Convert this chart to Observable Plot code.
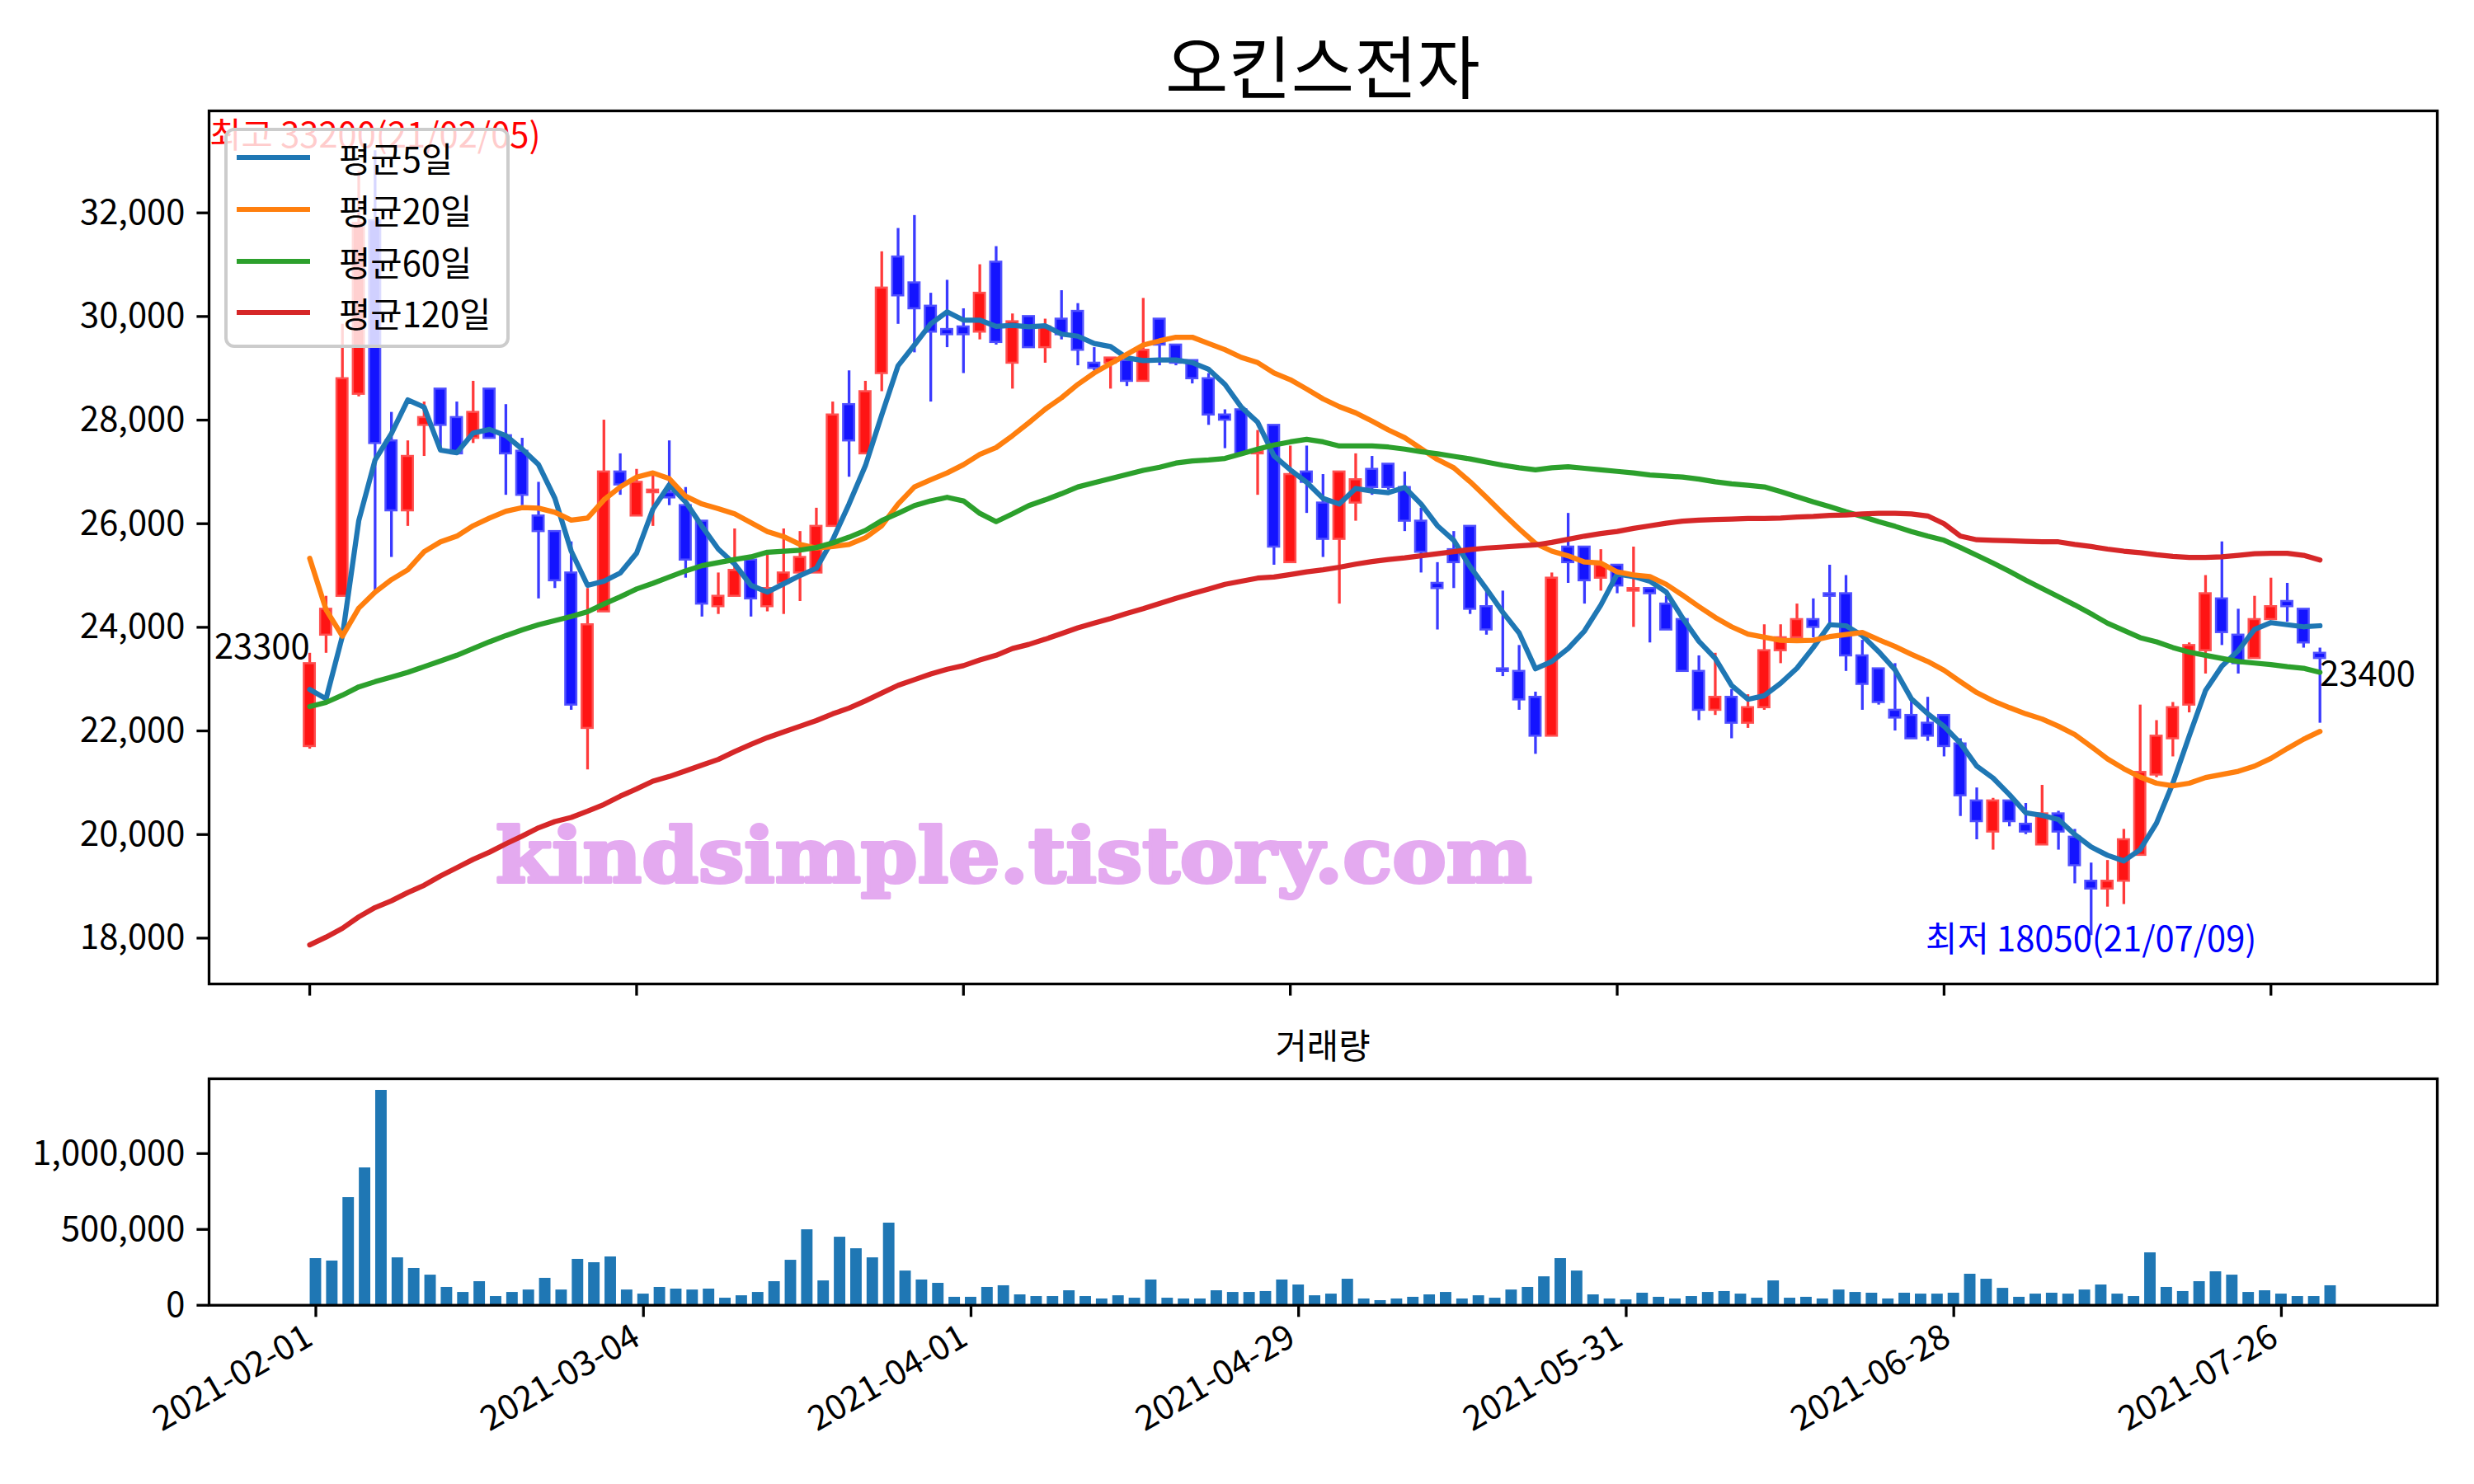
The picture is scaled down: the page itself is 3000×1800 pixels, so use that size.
<!DOCTYPE html>
<html><head><meta charset="utf-8">
<script src="https://cdn.jsdelivr.net/npm/d3@7"></script>
<script src="https://cdn.jsdelivr.net/npm/@observablehq/plot@0.6"></script>
<style>
html,body{margin:0;padding:0;background:#fff;}
#root{position:relative;width:3000px;height:1800px;overflow:hidden;font-family:"Noto Sans CJK KR","Noto Sans",sans-serif;color:#000;}
.abs{position:absolute;}
.plotwrap svg{max-width:none;}
</style></head><body><div id="root"></div>
<script>
// ---- data ----
const title = "오킨스전자";
const volumeTitle = "거래량";
const seriesNames = ["평균5일", "평균20일", "평균60일", "평균120일"];
const seriesColors = ["#1f77b4", "#ff7f0e", "#2ca02c", "#d62728"];
const tickIdx = [0, 20, 40, 60, 80, 100, 120];
const tickDates = ["2021-02-01", "2021-03-04", "2021-04-01", "2021-04-29", "2021-05-31", "2021-06-28", "2021-07-26"];

const open = [21700,23850,24600,28500,31850,27600,26250,27900,28600,28050,27650,28600,27700,27400,26150,25850,25050,22050,24300,27000,
26150,26600,26600,26350,26050,24400,24600,25300,24400,24850,25050,25050,25950,28300,27350,28900,31150,30650,30200,29750,
29800,29700,31050,29100,30000,29400,29950,30100,29100,29100,29150,28750,29950,29450,29150,28800,28100,28200,27350,27900,
25250,27000,26400,25700,26400,27050,27150,26700,26050,24850,25500,25950,24400,23200,23150,22650,21900,25550,25550,24950,
25200,24700,24750,24450,24150,23150,22400,22650,22150,22450,23550,23800,24150,24650,24650,23450,23200,22400,22300,22150,
22300,21750,20650,20050,20650,20200,19800,20400,19950,19100,18950,19100,19600,21150,21850,22500,23550,24550,23850,23400,
24150,24500,24350,23500];
const high = [23500,24600,29850,32800,33200,28150,27600,28350,28600,28350,28750,28600,28300,27650,26800,25850,25650,24750,28000,27350,
27050,27000,27600,26700,26050,25050,25900,25300,25400,25900,25850,26300,28350,28950,28750,31250,31700,31950,30450,30700,
30150,31000,31350,30050,30000,29950,30500,30250,29400,29200,29150,30350,29950,29450,29150,28900,28200,28200,27800,27900,
27500,27500,26950,27000,27350,27300,27150,27000,26300,25250,25850,25950,24750,24700,23650,22750,25050,26200,25550,25500,
25200,25550,24750,24600,24150,23450,23500,22800,22700,24050,24050,24450,24550,25200,25000,23750,23200,23300,22600,22650,
22300,21850,20900,20700,20650,20600,20950,20450,20100,19450,19500,20100,22500,22200,22550,23700,25000,25650,24350,24600,
24950,24850,24350,23600];
const low = [21650,23500,24600,28450,24700,25350,25950,27300,27450,27350,27550,27650,26550,26350,24550,24750,22400,21250,24300,26550,
26150,25950,26350,24950,24200,24250,24600,24200,24300,24250,24500,25050,25950,26900,27350,28550,29850,29300,28350,29400,
28900,29550,29450,28600,29400,29100,29550,29050,28950,28600,28650,28750,29050,29050,28700,27900,27450,27350,26550,25200,
25250,26200,25350,24450,26050,26550,26650,25850,25050,23950,24750,24250,23850,23050,22400,21550,21900,24850,24450,24700,
24650,24000,23700,23950,23150,22200,22300,21850,22050,22400,23300,23800,23800,24050,23150,22400,22500,22000,21850,21800,
21500,20350,19900,19700,20150,20000,19800,19700,19050,18050,18600,18650,19600,21100,21500,22350,23100,23650,23100,23400,
24150,24100,23600,22150];
const close = [23300,24350,28800,31800,27550,26250,27300,28050,27900,27350,28150,27650,27350,26550,25850,24900,22500,24050,27000,26750,
26800,26650,26500,25300,24450,24600,25100,24550,24750,25050,25350,25950,28100,27600,28550,30550,30400,30150,29700,29650,
29650,30450,29500,29900,29400,29800,29650,29350,29000,29200,28750,29350,29450,29100,28800,28100,28000,27350,27400,25550,
26950,26800,25700,27000,26850,26700,26700,26050,25450,24750,25250,24350,23950,23150,22600,21900,24950,25250,24900,25200,
24800,24750,24650,23950,23150,22400,22650,22150,22450,23550,23800,24150,24000,24600,23450,22900,22550,22250,21850,21900,
21700,20750,20250,20650,20250,20050,20400,20050,19400,18950,19100,19900,21200,21900,22450,23650,24650,23900,23300,24150,
24400,24400,23700,23400];
const volume = [308000,292000,710000,906000,1417000,313000,243000,199000,118000,85000,156000,58000,85000,101000,178000,101000,303000,281000,319000,101000,
74000,118000,107000,101000,107000,47000,63000,85000,156000,297000,498000,161000,449000,373000,313000,542000,226000,167000,145000,53000,
53000,118000,129000,69000,58000,58000,96000,58000,42000,63000,47000,167000,47000,42000,42000,96000,85000,85000,91000,167000,
134000,63000,74000,172000,42000,31000,42000,53000,69000,85000,42000,63000,47000,101000,118000,188000,308000,226000,69000,42000,
36000,80000,53000,42000,58000,85000,91000,74000,47000,161000,47000,53000,42000,101000,85000,80000,42000,80000,74000,74000,
80000,205000,172000,112000,53000,74000,80000,74000,101000,134000,74000,58000,346000,118000,91000,156000,221000,199000,85000,96000,
74000,58000,58000,129000];
const ma5 = [22800,22620,23830,26060,27230,27740,28390,28250,27420,27370,27750,27820,27700,27440,27140,26490,25470,24810,24890,25050,
25430,26280,26750,26420,25950,25510,25220,24810,24680,24840,25000,25140,25690,26380,27120,28100,29050,29450,29860,30090,
29930,29930,29810,29830,29800,29820,29660,29620,29480,29420,29200,29150,29160,29160,29110,28980,28690,28250,27960,27310,
27040,26800,26490,26380,26680,26630,26600,26700,26380,25960,25680,25170,24740,24290,23890,23200,23340,23590,23930,24430,
25030,24980,24890,24680,24180,23730,23400,22880,22610,22680,22920,23210,23610,24050,24030,23840,23530,23180,22620,22330,
22090,21760,21320,21090,20770,20420,20370,20290,20000,19760,19600,19490,19710,20220,20990,21900,22780,23250,23550,23960,
24090,24050,24010,24030];
const ma20 = [25330,24340,23830,24370,24680,24920,25110,25460,25650,25760,25960,26110,26240,26310,26300,26220,26070,26110,26460,26710,
26900,26980,26870,26530,26380,26290,26190,26020,25850,25750,25600,25530,25560,25600,25730,25960,26380,26710,26850,26980,
27140,27340,27470,27700,27950,28210,28430,28690,28910,29090,29270,29450,29530,29600,29600,29480,29360,29210,29110,28910,
28780,28600,28410,28260,28140,27980,27810,27660,27450,27240,27080,26810,26510,26200,25900,25620,25470,25380,25260,25240,
25070,25010,24980,24830,24620,24400,24190,24010,23870,23810,23750,23740,23750,23820,23860,23900,23760,23630,23480,23340,
23170,22950,22740,22580,22450,22330,22230,22090,21930,21700,21460,21270,21110,20990,20940,20990,21100,21160,21220,21320,
21470,21660,21840,21990];
const ma60 = [22470,22550,22690,22850,22950,23040,23130,23240,23350,23460,23590,23720,23840,23950,24050,24130,24210,24300,24450,24590,
24740,24850,24970,25090,25190,25250,25310,25360,25450,25470,25490,25540,25630,25740,25870,26060,26200,26350,26440,26510,
26440,26200,26040,26190,26350,26460,26580,26710,26790,26870,26950,27030,27090,27170,27210,27230,27260,27350,27440,27520,
27580,27630,27580,27500,27500,27500,27480,27440,27390,27350,27300,27250,27190,27130,27080,27040,27080,27100,27070,27040,
27010,26980,26940,26920,26900,26860,26810,26770,26740,26710,26620,26520,26420,26330,26230,26140,26040,25950,25850,25760,
25680,25540,25390,25240,25080,24910,24750,24590,24430,24260,24080,23940,23800,23720,23610,23520,23460,23400,23340,23310,
23280,23240,23210,23130];
const ma120 = [17870,18020,18190,18410,18590,18720,18880,19020,19200,19360,19520,19660,19820,19970,20130,20250,20330,20450,20580,20740,
20880,21030,21120,21230,21340,21450,21600,21740,21870,21980,22090,22200,22330,22440,22580,22730,22880,22990,23100,23190,
23260,23370,23460,23590,23670,23770,23880,23990,24080,24170,24270,24360,24460,24560,24650,24740,24830,24890,24950,24970,
25020,25070,25110,25160,25220,25270,25310,25340,25380,25420,25460,25500,25530,25550,25570,25590,25640,25700,25760,25810,
25850,25910,25960,26010,26050,26070,26080,26090,26100,26100,26110,26130,26140,26160,26170,26190,26200,26200,26190,26150,
26000,25760,25690,25680,25670,25660,25650,25650,25600,25560,25510,25470,25440,25400,25370,25350,25350,25360,25390,25420,
25430,25430,25390,25300];
const maxLabel = "최고 33200(21/02/05)";
const minLabel = "최저 18050(21/07/09)";
const watermark = "kindsimple.tistory.com";

// ---- build tables ----
const rows = open.map((o, i) => ({i, o, h: high[i], l: low[i], c: close[i], v: volume[i], up: close[i] >= o}));
const maSeries = [ma5, ma20, ma60, ma120].map((arr, k) => arr.map((v, i) => ({i, v, k})));
const n = rows.length;
const maxIdx = d3.maxIndex(high), minIdx = d3.minIndex(low);
const notes = [
  {i: 0, v: close[0], t: String(close[0]), kind: "first"},
  {i: n - 1, v: close[n - 1], t: String(close[n - 1]), kind: "last"}
];

const FONT = '"Noto Sans CJK KR", "Noto Sans", sans-serif';
const FS = 41.7;
const root = document.getElementById("root");

// watermark (behind plot)
const wm = document.createElementNS("http://www.w3.org/2000/svg", "svg");
wm.setAttribute("width", 3000); wm.setAttribute("height", 1800);
wm.setAttribute("class", "abs"); wm.style.left = "0px"; wm.style.top = "0px";
const wmt = document.createElementNS("http://www.w3.org/2000/svg", "text");
wmt.setAttribute("x", 601); wmt.setAttribute("y", 1070);
wmt.setAttribute("textLength", 1257); wmt.setAttribute("lengthAdjust", "spacingAndGlyphs");
wmt.setAttribute("font-family", '"DejaVu Serif", serif'); wmt.setAttribute("font-weight", "bold");
wmt.setAttribute("font-size", 92); wmt.setAttribute("fill", "#e4aaf0");
wmt.setAttribute("stroke", "#e4aaf0"); wmt.setAttribute("stroke-width", 4); wmt.setAttribute("stroke-linejoin", "round");
wmt.textContent = watermark;
wm.appendChild(wmt); root.appendChild(wm);

const up = "#ff1414", upEdge = "#ff5050", dn = "#1414ff", dnEdge = "#5050ff";

const main = Plot.plot({
  width: 3000, height: 1215,
  marginTop: 134, marginBottom: 22, marginLeft: 253, marginRight: 45,
  style: {fontFamily: FONT, fontSize: FS + "px", color: "black", background: "transparent", overflow: "visible"},
  x: {type: "linear", domain: [-6.16, 130.18]},
  y: {type: "linear", domain: [17115, 33969]},
  color: {type: "identity"},
  marks: [
    Plot.axisY({ticks: d3.range(18000, 32001, 2000), tickFormat: d3.format(","), tickSize: 14.6, tickPadding: 14.6, strokeWidth: 3.3, fontSize: FS, label: null}),
    Plot.axisX({ticks: tickIdx, tickFormat: () => "", tickSize: 14.6, strokeWidth: 3.3, label: null}),
    Plot.ruleX(rows, {x: "i", y1: "l", y2: "h", stroke: d => d.up ? "#ff3a3a" : "#3a3aff", strokeWidth: 3.3}),
    Plot.rect(rows, {x1: d => d.i - 0.5, x2: d => d.i + 0.5, y1: "o", y2: "c", insetLeft: 3.2, insetRight: 3.2,
      fill: d => d.up ? up : dn, stroke: d => d.up ? upEdge : dnEdge, strokeWidth: 2.5}),
    ...maSeries.map((s, k) => Plot.line(s, {x: "i", y: "v", stroke: seriesColors[k], strokeWidth: 6.25})),
    Plot.text(notes.filter(d => d.kind === "first"), {x: "i", y: "v", text: "t", textAnchor: "end", lineAnchor: "bottom", dy: -6, fontSize: FS, fill: "black"}),
    Plot.text(notes.filter(d => d.kind === "last"), {x: "i", y: "v", text: "t", textAnchor: "start", lineAnchor: "top", dy: 4, fontSize: FS, fill: "black"}),
    Plot.text([{i: maxIdx, v: high[maxIdx]}], {x: "i", y: "v", text: () => maxLabel, textAnchor: "middle", lineAnchor: "bottom", dy: -4, fontSize: FS, fill: "red"}),
    Plot.text([{i: minIdx, v: low[minIdx]}], {x: "i", y: "v", text: () => minLabel, textAnchor: "middle", lineAnchor: "middle", dy: 6, fontSize: FS, fill: "blue"}),
    Plot.frame({stroke: "black", strokeWidth: 3.3})
  ]
});
const w1 = document.createElement("div"); w1.className = "abs plotwrap"; w1.style.left = "0px"; w1.style.top = "0px";
w1.appendChild(main); root.appendChild(w1);

const labelOf = new Map(tickIdx.map((t, k) => [t, tickDates[k]]));
const vol = Plot.plot({
  width: 3000, height: 570,
  marginTop: 78, marginBottom: 217.3, marginLeft: 253, marginRight: 45,
  style: {fontFamily: FONT, fontSize: FS + "px", color: "black", background: "transparent", overflow: "visible"},
  x: {type: "linear", domain: [-6.52, 129.52]},
  y: {type: "linear", domain: [0, 1493000]},
  marks: [
    Plot.axisY({ticks: [0, 500000, 1000000], tickFormat: d3.format(","), tickSize: 14.6, tickPadding: 14.6, strokeWidth: 3.3, fontSize: FS, label: null}),
    Plot.axisX({ticks: tickIdx, tickFormat: () => "", tickSize: 14.6, strokeWidth: 3.3, label: null}),
    Plot.axisX({ticks: tickIdx, tickFormat: d => labelOf.get(d), tickSize: 0, tickPadding: 31, dx: -8, dy: 4, fontSize: FS, tickRotate: -30, label: null}),
    Plot.rect(rows, {x1: d => d.i - 0.35, x2: d => d.i + 0.35, y1: 0, y2: "v", fill: "#1f77b4"}),
    Plot.frame({stroke: "black", strokeWidth: 3.3})
  ]
});
const w2 = document.createElement("div"); w2.className = "abs plotwrap"; w2.style.left = "0px"; w2.style.top = "1230px";
w2.appendChild(vol); root.appendChild(w2);

// titles
const t1 = document.createElement("div"); t1.className = "abs";
Object.assign(t1.style, {left: "1104px", width: "1000px", top: "22px", textAlign: "center", fontSize: "83px", lineHeight: "110px"});
t1.textContent = title; root.appendChild(t1);
const t2 = document.createElement("div"); t2.className = "abs";
Object.assign(t2.style, {left: "1304px", width: "600px", top: "1238px", textAlign: "center", fontSize: FS + "px", lineHeight: "56px"});
t2.textContent = volumeTitle; root.appendChild(t2);

// legend
const lg = document.createElement("div"); lg.className = "abs";
Object.assign(lg.style, {left: "272px", top: "155px", width: "346px", height: "267px", boxSizing: "border-box",
  border: "4px solid #cccccc", borderRadius: "12px", background: "rgba(255,255,255,0.8)"});
seriesNames.forEach((name, k) => {
  const cy = [190.7, 253.7, 316.7, 378.7][k] - 155 - 4;
  const ln = document.createElement("div"); ln.className = "abs";
  Object.assign(ln.style, {left: "11px", top: (cy - 3.1) + "px", width: "89px", height: "6.25px", background: seriesColors[k]});
  lg.appendChild(ln);
  const tx = document.createElement("div"); tx.className = "abs";
  Object.assign(tx.style, {left: "135px", top: (cy - 28) + "px", height: "56px", lineHeight: "56px", fontSize: FS + "px", whiteSpace: "nowrap"});
  tx.textContent = name; lg.appendChild(tx);
});
root.appendChild(lg);
</script></body></html>
